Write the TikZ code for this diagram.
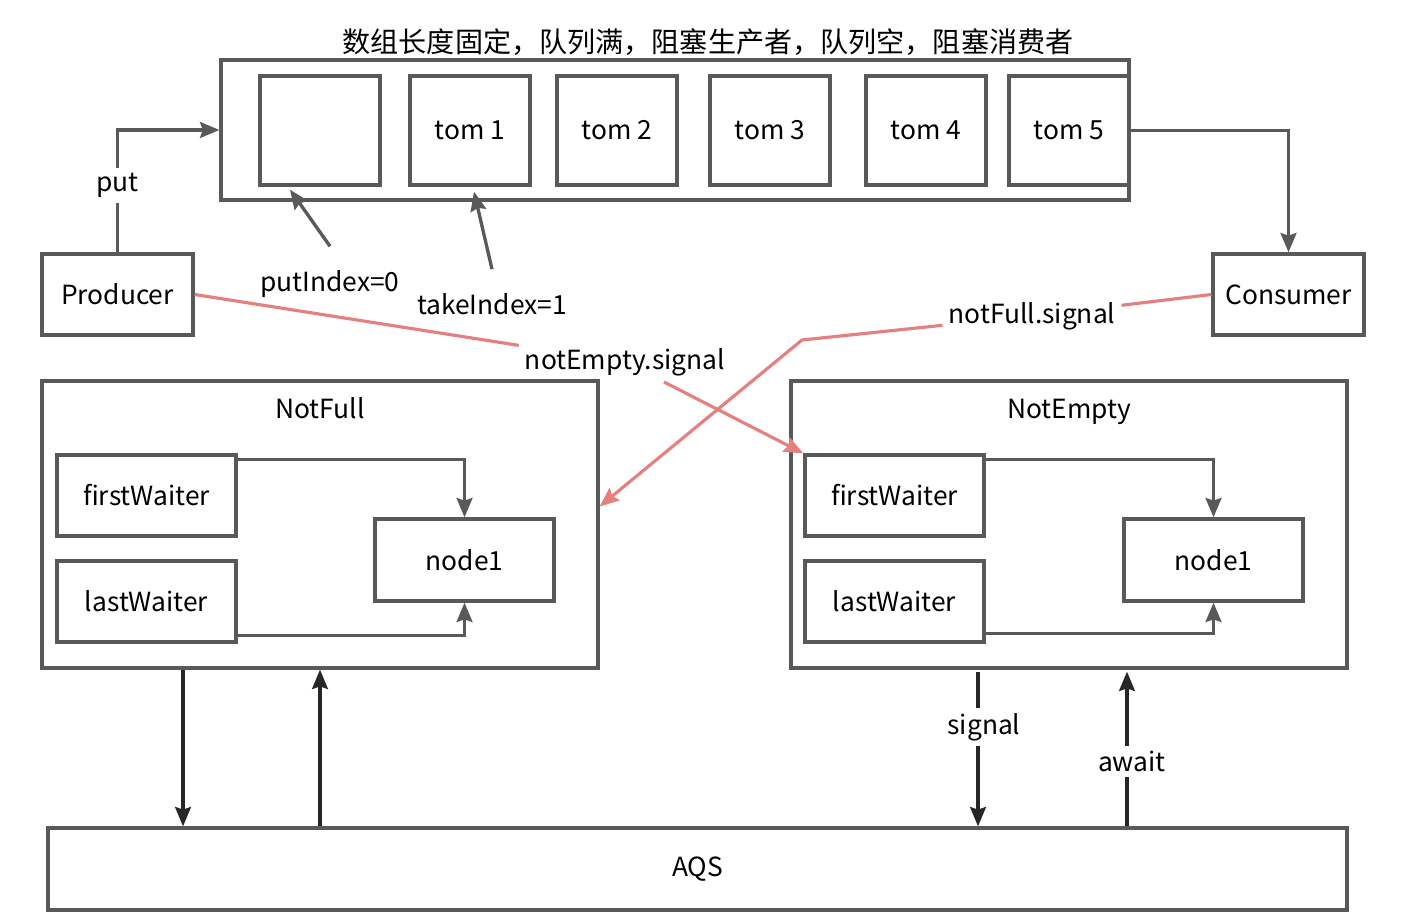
\documentclass[tikz,border=0pt]{standalone}
\usepackage{fontspec}
\setmainfont{Noto Sans CJK SC}
\usetikzlibrary{arrows.meta}
\definecolor{boxgray}{HTML}{595959}
\definecolor{sigred}{HTML}{E58080}
\definecolor{darkline}{HTML}{262626}
\begin{document}
\begin{tikzpicture}[x=0.02cm, y=-0.02cm,
        font = \fontsize{15}{18}\selectfont,
        frame/.style = {draw=boxgray, line width=1.9pt, inner sep=0pt},
        cell/.style = {frame, minimum width=2.4cm, minimum height=2.18cm},
        role/.style = {frame, minimum width=3.02cm, minimum height=1.62cm},
        cond/.style = {frame, minimum width=11.12cm, minimum height=5.74cm},
        waiter/.style = {frame, minimum width=3.58cm, minimum height=1.62cm},
        tip/.style = {-{Stealth[length=11pt, width=9pt, inset=1.5pt]}},
        grayarrow/.style = {tip, draw=boxgray, line width=1.9pt},
        darkarrow/.style = {tip, draw=darkline, line width=1.8pt},
        redarrow/.style = {tip, draw=sigred, line width=1.8pt}]

    \useasboundingbox (0,0) rectangle (1413,922);

    % Title
    \node[font=\fontsize{16}{20}\selectfont] (title) at (708,42) {数组长度固定，队列满，阻塞生产者，队列空，阻塞消费者};

    % Array
    \node[frame, minimum width=18.16cm, minimum height=2.8cm] (arr) at (675,130) {};
    \node[cell] (cell0) at (320,130.5) {};
    \node[cell] (tom1) at (470,130.5) {tom 1};
    \node[cell] (tom2) at (617,130.5) {tom 2};
    \node[cell] (tom3) at (770,130.5) {tom 3};
    \node[cell] (tom4) at (926,130.5) {tom 4};
    \node[cell] (tom5) at (1069,130.5) {tom 5};

    % Producer and consumer
    \node[role] (prod) at (117.5,294.5) {Producer};
    \node[role] (cons) at (1288.5,294.5) {Consumer};

    \draw[grayarrow] (prod.north) -- node[fill=white, inner sep=3pt, pos=0.55] (put) {put} (prod.north |- arr.west) -- (arr.west);
    \draw[grayarrow] (tom5.east) -| (cons.north);

    % Index labels
    \node (pidx) at (330,284) {putIndex=0};
    \node (tidx) at (492,304) {takeIndex=1};
    \draw[grayarrow] ([yshift=0.36cm]pidx.north) -- ([xshift=-0.6cm, yshift=-0.06cm]cell0.south);
    \draw[grayarrow] ([yshift=0.36cm]tidx.north) -- ([xshift=0.08cm, yshift=-0.1cm]tom1.south);

    % NotFull
    \node[cond] (nfull) at (320,524.5) {};
    \node[text height=2ex, text depth=0.5ex] (nfulltitle) at (320,411) {NotFull};
    \node[waiter] (fw1) at (146.5,495.5) {firstWaiter};
    \node[waiter] (lw1) at (146.5,601.5) {lastWaiter};
    \node[waiter, minimum height=1.64cm] (nodeA) at (464.5,560) {node1};
    \draw[grayarrow] ([yshift=-0.12cm]fw1.north east) -| (nodeA.north);
    \draw[grayarrow] ([yshift=0.16cm]lw1.south east) -| (nodeA.south);

    % NotEmpty
    \node[cond] (nempty) at (1069,524.5) {};
    \node[text height=2ex, text depth=0.5ex] (nemptytitle) at (1069,411) {NotEmpty};
    \node[waiter] (fw2) at (894.5,495.5) {firstWaiter};
    \node[waiter] (lw2) at (894.5,601.5) {lastWaiter};
    \node[waiter, minimum height=1.64cm] (nodeB) at (1213.5,560) {node1};
    \draw[grayarrow] ([yshift=-0.12cm]fw2.north east) -| (nodeB.north);
    \draw[grayarrow] ([yshift=0.2cm]lw2.south east) -| (nodeB.south);

    % Signals
    \node (nesig) at (625,362) {notEmpty.signal};
    \node (nfsig) at (1032,316) {notFull.signal};
    \coordinate (bend) at (802,340);
    \draw[redarrow] (prod.east) -- (nesig) -- (fw2.north west);
    \draw[redarrow] (cons.west) -- (nfsig) -- (bend) -- ([yshift=0.36cm]nfull.east);

    % AQS
    \node[frame, minimum width=25.98cm, minimum height=1.64cm] (aqs) at (697.5,869) {AQS};
    \draw[darkarrow] ([xshift=-2.74cm]nfull.south) -- ([xshift=-2.74cm]nfull.south |- aqs.north);
    \draw[darkarrow] (aqs.north -| nfull.south) -- (nfull.south);
    \draw[darkarrow] ([xshift=-1.82cm, yshift=-0.04cm]nempty.south) -- node[fill=white, inner sep=3pt, pos=0.36, xshift=0.12cm] (sig) {signal} ([xshift=-1.82cm]nempty.south |- aqs.north);
    \draw[darkarrow] ([xshift=1.16cm]nempty.south |- aqs.north) -- node[fill=white, inner sep=3pt, pos=0.42, xshift=0.1cm] (awt) {await} ([xshift=1.16cm, yshift=-0.04cm]nempty.south);

\end{tikzpicture}
\end{document}
